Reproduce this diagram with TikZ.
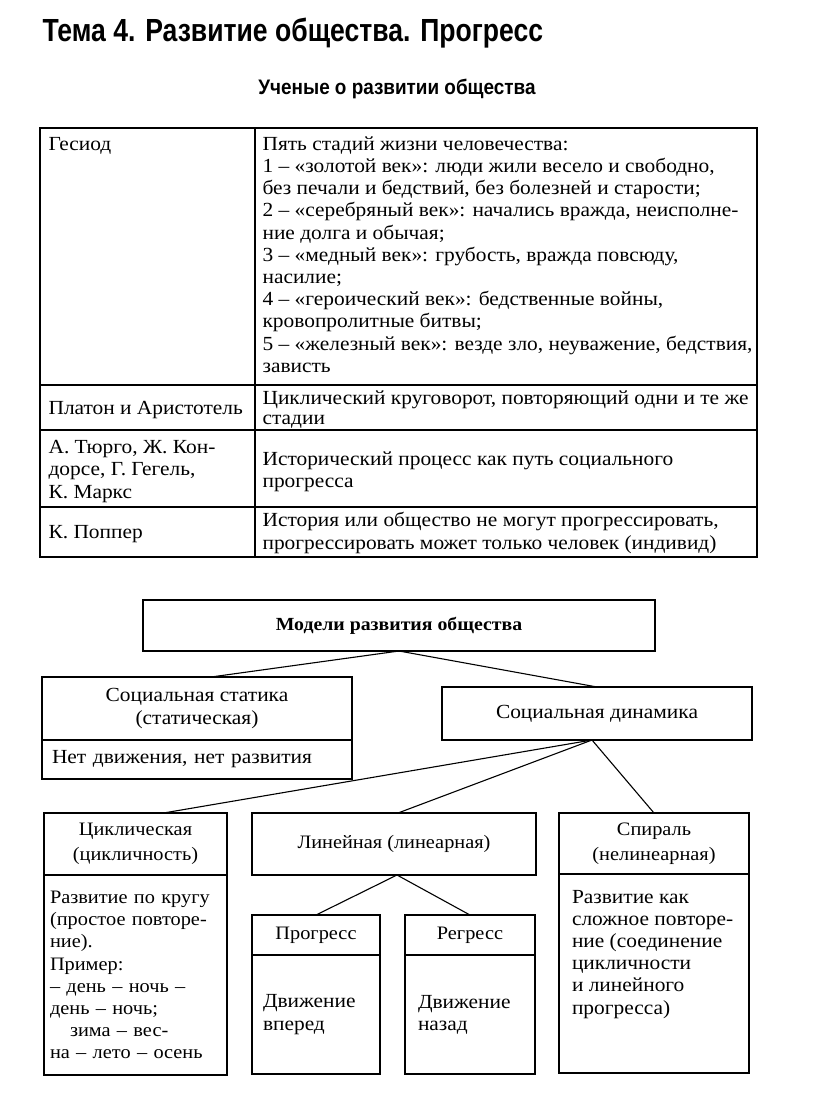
\documentclass[tikz,border=0pt]{standalone}
\usepackage{fontspec}
\setmainfont[FakeStretch=1.07]{Liberation Serif}
\newfontfamily\headfont[FakeStretch=0.83]{Liberation Sans}
\newfontfamily\subfont[FakeStretch=0.9]{Liberation Sans}
\usetikzlibrary{positioning}
\tikzset{box/.style = {draw, line width=1.1pt, outer sep=0, inner sep=0,
                       align=center, font=\fontsize{20}{22.2}\selectfont}}
\tikzset{lowbox/.style = {box, font=\fontsize{19}{25}\selectfont}}
\tikzset{bodybox/.style = {box, align=left, inner xsep=#1,
                           font=\fontsize{20}{22.2}\selectfont}}
\tikzset{txt/.style = {inner sep=0, align=left, anchor=north west,
                       font=\fontsize{20}{22.2}\selectfont}}
\tikzset{
  every picture/.style={
    every path/.style={line width=1.1pt},
  }
}

\begin{document}
\begin{tikzpicture}[x=1pt,y=-1pt]
  \useasboundingbox (0,0) rectangle (816,1098);
  \node[anchor=base west, inner sep=0,
        font=\headfont\bfseries\fontsize{32}{32}\selectfont]
    (title) at (42,41) {Тема 4. Развитие общества. Прогресс};
  \node[anchor=base, inner sep=0,
        font=\subfont\bfseries\fontsize{21}{21}\selectfont]
    (subtitle) at (397,94) {Ученые о развитии общества};

  \draw (40,128) rectangle (757,557);
  \draw (255,128) -- (255,557);
  \draw (40,385) -- (757,385);
  \draw (40,430) -- (757,430);
  \draw (40,507) -- (757,507);

  \node[txt] (hesiod) at (48,137) {Гесиод};
  \node[txt] (stages) at (262,136)
    {Пять стадий жизни человечества:\\
     1 – «золотой век»: люди жили весело и свободно,\\
     без печали и бедствий, без болезней и старости;\\
     2 – «серебряный век»: начались вражда, неисполне-\\
     ние долга и обычая;\\
     3 – «медный век»: грубость, вражда повсюду,\\
     насилие;\\
     4 – «героический век»: бедственные войны,\\
     кровопролитные битвы;\\
     5 – «железный век»: везде зло, неуважение, бедствия,\\
     зависть};
  \node[txt] (plato) at (48,401) {Платон и Аристотель};
  \node[txt, font=\fontsize{20}{20}\selectfont] (cycle) at (262,390)
    {Циклический круговорот, повторяющий одни и те же\\стадии};
  \node[txt] (turgot) at (48,440)
    {А. Тюрго, Ж. Кон-\\дорсе, Г. Гегель,\\К. Маркс};
  \node[txt] (path) at (262,451)
    {Исторический процесс как путь социального\\прогресса};
  \node[txt] (popper) at (48,525) {К. Поппер};
  \node[txt] (person) at (262,512)
    {История или общество не могут прогрессировать,\\
     прогрессировать может только человек (индивид)};

  \node[box, minimum width=512, minimum height=51,
        font=\bfseries\fontsize{18.5}{22}\selectfont]
    (models) at (399,625.5) {Модели развития общества};
  \node[box, minimum width=310, minimum height=63]
    (stath) at (197,708.5) {Социальная статика\\(статическая)};
  \node[bodybox=10pt, text width=290, minimum height=39, below=0pt of stath]
    (statb) {Нет движения, нет развития};
  \node[box, minimum width=310, minimum height=53]
    (dyn) at (597,713.5) {Социальная динамика};

  \node[lowbox, minimum width=183, minimum height=62]
    (cyclh) at (135.5,844) {Циклическая\\(цикличность)};
  \node[bodybox=6pt, text width=171, minimum height=200,
        font=\fontsize{19}{22.2}\selectfont, below=0pt of cyclh]
    (cyclb) {Развитие по кругу\\(простое повторе-\\ние).\\Пример:\\
             – день – ночь –\\день – ночь;\\
             \hspace*{20pt}зима – вес-\\на – лето – осень};
  \node[lowbox, minimum width=284, minimum height=62]
    (lin) at (394,844) {Линейная (линеарная)};
  \node[lowbox, minimum width=128, minimum height=40]
    (progh) at (316,935) {Прогресс};
  \node[bodybox=11pt, text width=106, minimum height=119, below=0pt of progh]
    (progb) {Движение\\вперед};
  \node[lowbox, minimum width=130, minimum height=40]
    (regh) at (470,935) {Регресс};
  \node[bodybox=13pt, text width=104, minimum height=119, below=0pt of regh]
    (regb) {Движение\\назад};
  \node[lowbox, minimum width=190, minimum height=61]
    (spirh) at (654,843.5) {Спираль\\(нелинеарная)};
  \node[bodybox=13pt, inner ysep=0, below=0pt of spirh]
    (spirb) {\parbox[c][199pt][t]{164pt}{\raggedright\vspace*{16pt}%
             Развитие как\\сложное повторе-\\ние (соединение\\
             цикличности\\и линейного\\прогресса)}};

  \draw (models.south) -- ([xshift=14pt]stath.north);
  \draw (models.south) -- (dyn.north);
  \draw ([xshift=-5pt]dyn.south) -- ([xshift=28pt]cyclh.north);
  \draw ([xshift=-5pt]dyn.south) -- ([xshift=4pt]lin.north);
  \draw ([xshift=-5pt]dyn.south) -- (spirh.north);
  \draw ([xshift=3pt]lin.south) -- (progh.north);
  \draw ([xshift=3pt]lin.south) -- (regh.north);
\end{tikzpicture}
\end{document}
